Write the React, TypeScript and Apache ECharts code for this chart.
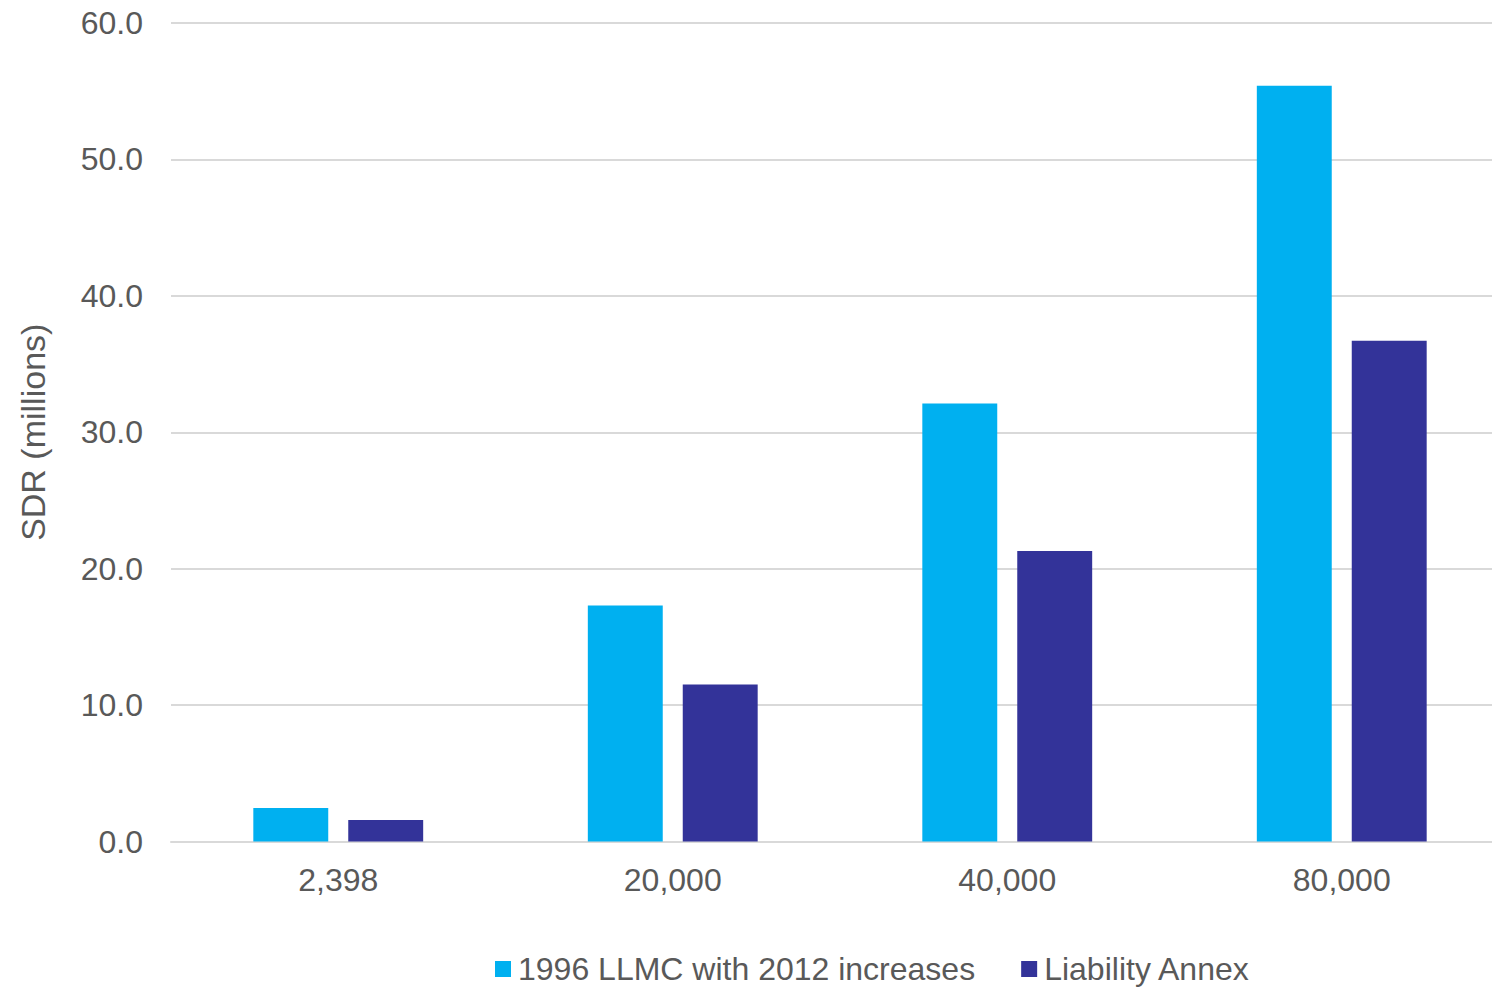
import React, { useEffect, useRef } from "react";
import * as echarts from "echarts";

const categories = ["2,398", "20,000", "40,000", "80,000"];
const llmc2012 = [2.45, 17.3, 32.1, 55.4];
const liabilityAnnex = [1.57, 11.5, 21.3, 36.7];
const seriesNames = ["1996 LLMC with 2012 increases", "Liability Annex"];

export default function App() {
  const ref = useRef<HTMLDivElement>(null);
  useEffect(() => {
    if (!ref.current) return;
    const chart = echarts.init(ref.current, undefined, { renderer: "svg" });
    const font = "Liberation Sans, Arial, sans-serif";
    chart.setOption({
      animation: false,
      backgroundColor: "#ffffff",
      grid: { left: 171, top: 23, right: 0, bottom: 146.5, containLabel: false },
      legend: {
        bottom: -2,
        left: 490,
        itemWidth: 16,
        itemHeight: 16,
        itemGap: 46,
        icon: "rect",
        textStyle: { color: "#595959", fontSize: 32, fontFamily: font, padding: [0, 0, 0, 2] },
        data: seriesNames,
      },
      xAxis: {
        type: "category",
        data: categories,
        axisTick: { show: false },
        axisLine: { lineStyle: { color: "#d9d9d9", width: 2 } },
        axisLabel: { color: "#595959", fontSize: 32, fontFamily: font, margin: 22 },
      },
      yAxis: {
        type: "value",
        min: 0,
        max: 60,
        interval: 10,
        name: "SDR (millions)",
        nameLocation: "middle",
        nameGap: 121,
        nameTextStyle: { color: "#595959", fontSize: 34, fontFamily: font },
        axisLine: { show: false },
        axisTick: { show: false },
        splitLine: { lineStyle: { color: "#d9d9d9", width: 2 } },
        axisLabel: {
          color: "#595959",
          fontSize: 32,
          fontFamily: font,
          margin: 28,
          formatter: (v: number) => v.toFixed(1),
        },
      },
      series: [
        {
          name: seriesNames[0],
          type: "bar",
          data: llmc2012,
          barWidth: "22.4%",
          barGap: "26.7%",
          itemStyle: { color: "#00b0f0" },
        },
        {
          name: seriesNames[1],
          type: "bar",
          data: liabilityAnnex,
          barWidth: "22.4%",
          barGap: "26.7%",
          itemStyle: { color: "#333399" },
        },
      ],
    });
    return () => chart.dispose();
  }, []);
  return (
    <div style={{ position: "fixed", left: 0, top: 0, width: 1492, height: 988, overflow: "hidden" }}>
      <div ref={ref} style={{ width: 1509, height: 988 }} />
    </div>
  );
}
